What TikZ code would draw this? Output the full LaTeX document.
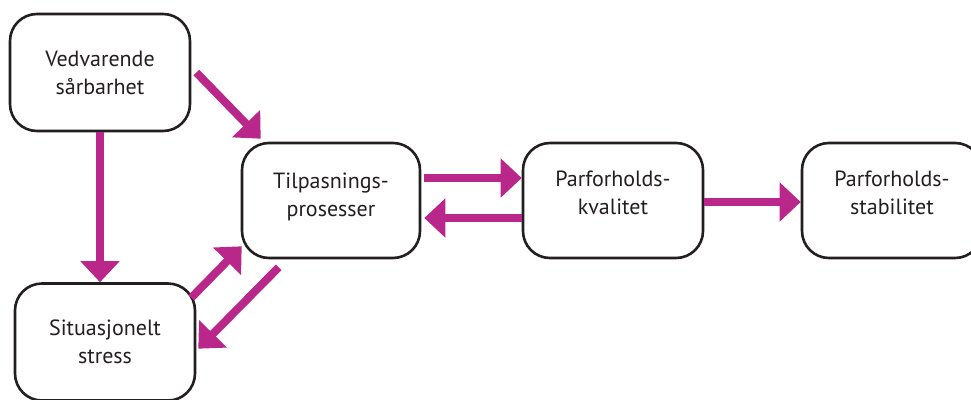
\documentclass[tikz,border=0pt]{standalone}
\usepackage{fontspec}
\setmainfont{PT Sans}
\usetikzlibrary{arrows.meta}
\definecolor{flowmagenta}{RGB}{185,39,139}
\definecolor{boxline}{RGB}{35,31,32}

\begin{document}
\begin{tikzpicture}[%
    x=1pt, y=-1pt,
    box/.style={
        draw=boxline,
        line width=2.6pt,
        rounded corners=27pt,
        align=center,
        text=boxline,
        inner sep=0pt,
        font=\fontsize{22}{28}\selectfont
    },
    flow/.style={
        draw=flowmagenta,
        line width=8pt,
        -{Triangle[width=38pt,length=21pt]}
    }
]
    % Fixed frame, the lower and right boxes run past it.
    \useasboundingbox (0,0) rectangle (971,399);

    % Left column.
    \node[box, minimum width=180pt, minimum height=117pt] (ved) at (100,72.5)
        {Vedvarende\\sårbarhet};
    \node[box, minimum width=180pt, minimum height=117pt] (sit) at (105,342)
        {Situasjonelt\\stress};

    % Middle row (the text sits a bit high in these boxes).
    \node[box, minimum width=178pt, minimum height=115pt, text depth=11pt] (tilp) at (331,200.5)
        {Tilpasnings-\\prosesser};
    \node[box, minimum width=180pt, minimum height=115pt, text depth=16pt] (qual) at (613,200.5)
        {Parforholds-\\kvalitet};
    \node[box, minimum width=180pt, minimum height=115pt, text depth=16pt] (stab) at (892,200.5)
        {Parforholds-\\stabilitet};

    % Arrows out of the left column.
    \draw[flow] ([shift={(5,0)}]ved.east) -- ([shift={(20,-3)}]tilp.north west);
    \draw[flow] (ved.south) -- ([shift={(-5,0)}]sit.north);
    \draw[flow] ([shift={(-5,15.5)}]sit.north east) -- ([shift={(1,-13)}]tilp.south west);
    \draw[flow] ([shift={(38,8)}]tilp.south west) -- ([shift={(2,66.5)}]sit.north east);

    % Arrows along the middle row.
    \draw[flow] ([shift={(3,-22.5)}]tilp.east) -- ([shift={(0,-22.5)}]qual.west);
    \draw[flow] ([shift={(0,17.5)}]qual.west) -- ([shift={(3,17.5)}]tilp.east);
    \draw[flow] ([shift={(0,1.5)}]qual.east) -- ([shift={(0,1.5)}]stab.west);
\end{tikzpicture}
\end{document}
